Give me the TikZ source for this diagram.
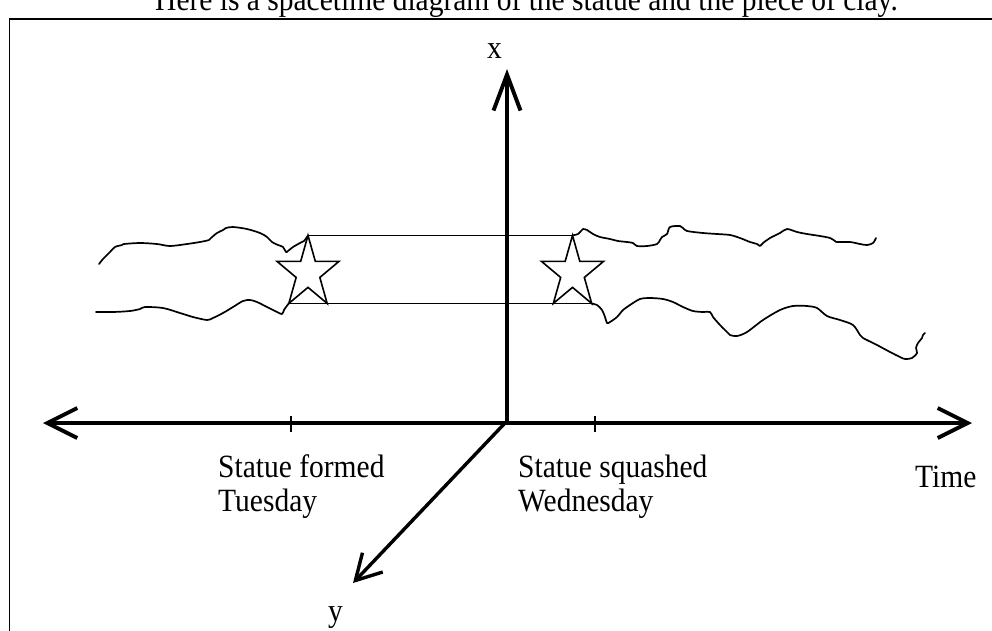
\documentclass[tikz,border=0pt]{standalone}
\usepackage{fontspec}
\setmainfont{Liberation Serif}
\usetikzlibrary{arrows.meta}
\begin{document}
\begin{tikzpicture}[x=1pt,y=-1pt,
  lbl/.style={font=\fontsize{29.5}{32}\selectfont, inner sep=0pt, anchor=base west, yscale=1.1, transform shape},
  axisline/.style={line width=3.9pt, line join=miter},
  yaxisline/.style={line width=3.4pt, line join=miter},
  starline/.style={line width=1.6pt, line join=miter},
  clay/.style={line width=1.7pt, line cap=round, line join=round},
  tickline/.style={line width=1.3pt},
  frameline/.style={line width=1.6pt}]
\useasboundingbox (0,0) rectangle (992,630);
\clip (0,0) rectangle (992,630);

% title and frame
\node[lbl] (title) at (155,10) {Here is a spacetime diagram of the statue and the piece of clay.};
\draw[frameline] (9.5,640) -- (9.5,19) -- (1000,19);

% axes
\coordinate (O) at (507,423);
\coordinate (Tl) at (43,423);
\coordinate (Tr) at (972,423);
\coordinate (Xt) at (507,69);
\coordinate (Yt) at (353,583);
\draw[axisline, {Straight Barb[length=30pt,width=30pt]}-{Straight Barb[length=30pt,width=30pt]}] (Tl) -- (Tr);
\draw[axisline, -{Straight Barb[length=36pt,width=27pt]}] (O) -- (Xt);
\draw[yaxisline, -{Straight Barb[length=25pt,width=28pt]}] (505,423) -- (Yt);

% ticks
\coordinate (k1a) at (291,416); \coordinate (k1b) at (291,432);
\coordinate (k2a) at (595,416); \coordinate (k2b) at (595,432);
\draw[tickline] (k1a) -- (k1b);
\draw[tickline] (k2a) -- (k2b);

% stars
\begin{scope}[shift={(308,273)}, xscale=32.6, yscale=-37.6]
  \foreach \i in {0,...,9} {
    \pgfmathsetmacro\rr{ifthenelse(mod(\i,2)==0,1,0.382)}
    \coordinate (LS\i) at ({90+36*\i}:\rr);
  }
\end{scope}
\begin{scope}[shift={(572.5,273)}, xscale=32.6, yscale=-37.6]
  \foreach \i in {0,...,9} {
    \pgfmathsetmacro\rr{ifthenelse(mod(\i,2)==0,1,0.382)}
    \coordinate (RS\i) at ({90+36*\i}:\rr);
  }
\end{scope}
\draw[starline] (LS0) -- (LS1) -- (LS2) -- (LS3) -- (LS4) -- (LS5) -- (LS6) -- (LS7) -- (LS8) -- (LS9) -- cycle;
\draw[starline] (RS0) -- (RS1) -- (RS2) -- (RS3) -- (RS4) -- (RS5) -- (RS6) -- (RS7) -- (RS8) -- (RS9) -- cycle;
\draw[starline] (LS0) -- (RS0);
\draw[starline] (LS4) -- (RS6);

% clay
\draw[clay] plot[smooth, tension=0.5] coordinates {(99,264) (103,259) (110,252) (115,247) (122,245) (124,244) (140,243) (157,244) (170,246) (187,244) (200,242) (209,240) (211,238) (217,233) (223,230) (226,228) (233,227) (247,229) (260,233) (267,237) (272,242) (278,245) (283,247) (286,252) (288,251) (293,247) (300,243) (304,241) (308,235.4)};
\draw[clay] plot[smooth, tension=0.5] coordinates {(96,312) (113,312) (130,311) (140,309) (145,307) (163,308) (180,313) (193,317) (207,320) (213,318) (223,313) (233,307) (243,301) (250,300) (257,302) (267,307) (277,312) (282,314) (284,310) (286,307) (288.8,303.4)};
\draw[clay] plot[smooth, tension=0.5] coordinates {(572.5,235.4) (578,234) (581,231) (583,229) (587,230) (593,234) (600,237) (610,239) (618,241) (627,242) (633,243) (637,246) (647,246) (657,244) (660,240) (662,237) (667,234) (670,227) (680,226) (683,228) (687,231) (703,233) (717,234) (730,235) (740,238) (750,242) (757,244) (760,246) (763,243) (770,238) (780,233) (787,229) (797,232) (807,234) (820,236) (830,238) (835,241) (837,242) (850,242) (860,244) (867,245) (873,243) (876,238)};
\draw[clay] plot[smooth, tension=0.5] coordinates {(591.2,303.4) (597,305) (602,310) (605,317) (607,323) (610,322) (617,317) (623,310) (630,305) (640,299) (650,298) (663,299) (673,302) (683,307) (693,311) (703,312) (710,312) (713,317) (720,325) (727,332) (730,335) (737,336) (747,332) (763,320) (780,310) (793,306) (807,306) (817,308) (827,316) (840,320) (853,325) (860,335) (863,338) (877,345) (890,352) (900,357) (905,359) (912,358) (917,353) (916,348) (918,343) (922,338) (923,335) (925,333)};

% labels
\node[lbl] (xl) at (487,58) {x};
\node[lbl] (yl) at (328,621) {y};
\node[lbl] (f1) at (218,477) {Statue formed};
\node[lbl] (f2) at (218,511) {Tuesday};
\node[lbl] (s1) at (518,477) {Statue squashed};
\node[lbl] (s2) at (518,511) {Wednesday};
\node[lbl] (tm) at (915,487) {Time};
\end{tikzpicture}
\end{document}
